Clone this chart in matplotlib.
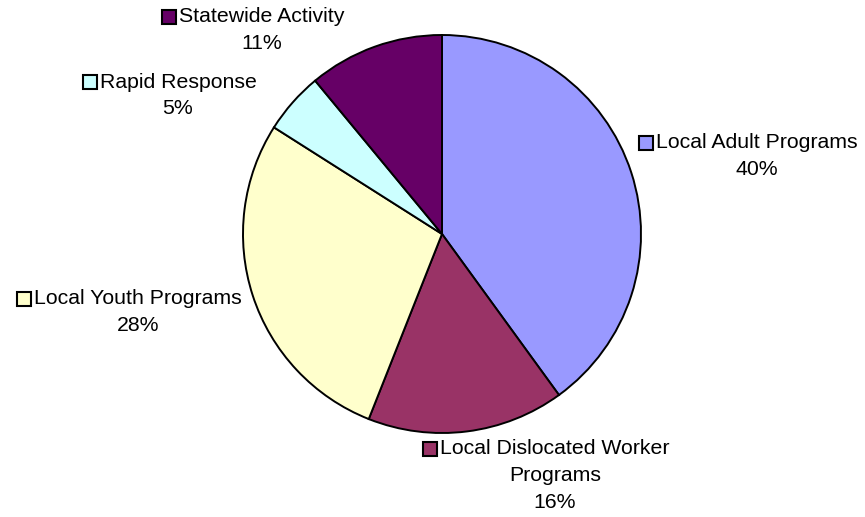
import matplotlib.pyplot as plt

categories = ["Local Adult Programs", "Local Dislocated Worker\nPrograms",
              "Local Youth Programs", "Rapid Response", "Statewide Activity"]
shares = [40, 16, 28, 5, 11]
colors = ["#9999FF", "#993366", "#FFFFCC", "#CCFFFF", "#660066"]
# label text centre (x, y of first line) in pixels from top-left
label_pos = [(757, 143), (555, 449), (138, 299), (178, 82), (262, 17)]

W, H = 865, 517
plt.rcParams['font.family'] = ['Liberation Sans', 'DejaVu Sans']
fig = plt.figure(figsize=(W / 100, H / 100), dpi=100)
ax = fig.add_axes([0, 0, 1, 1])

ax.pie(shares, colors=colors, startangle=90, counterclock=False,
       center=(442, H - 234), radius=199, frame=True,
       wedgeprops=dict(edgecolor='black', linewidth=1.4))
ax.set_xlim(0, W)
ax.set_ylim(0, H)
ax.set_aspect('equal')
ax.axis('off')

fs = 15.3
step = 26.5
fig.canvas.draw()
rend = fig.canvas.get_renderer()
for name, val, col, (x, y) in zip(categories, shares, colors, label_pos):
    lines = name.split("\n") + [f"{val}%"]
    for i, ln in enumerate(lines):
        t = ax.text(x, H - y - i * step, ln, ha='center', va='center',
                    fontsize=fs)
        if i == 0:
            bb = t.get_window_extent(rend)
    # legend key square left of first line
    ax.plot(bb.x0 - 10, H - y, marker='s', markersize=10, color=col,
            markeredgecolor='black', markeredgewidth=1.5)

fig.savefig("out.png", dpi=100)
